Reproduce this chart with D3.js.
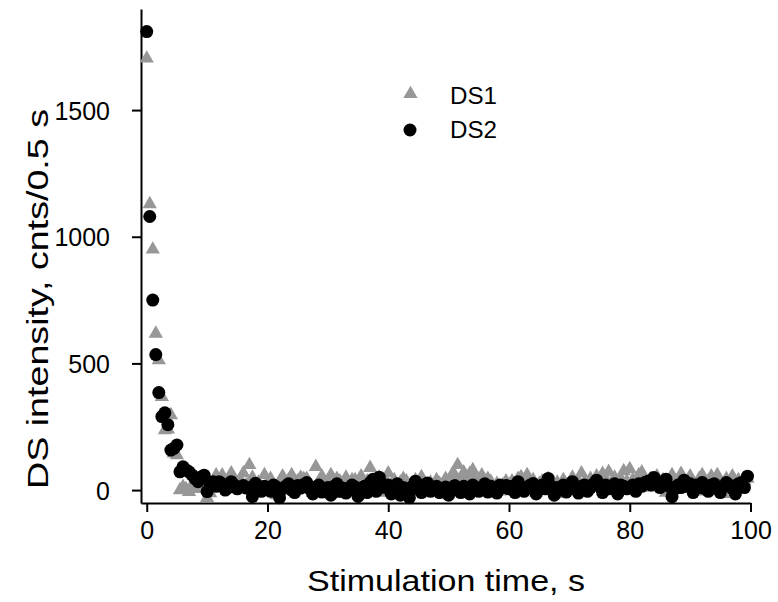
<!DOCTYPE html>
<html>
<head>
<meta charset="utf-8">
<script src="https://cdn.jsdelivr.net/npm/d3@7"></script>
<style>
  body { margin: 0; background: #fff; }
  svg { display: block; font-family: "Liberation Sans", Arial, sans-serif; }
</style>
</head>
<body>
<svg id="chart" width="778" height="602"></svg>
<script>
// counts per 0.5 s bin, starting at t = 0
var binWidth = 0.5;

var ds1 = [
  1704, 1129, 950, 618, 513, 368, 237, 240, 296, 145, 138, 0, 13, 4, -7, 20, 5, 15, 30, 10,
  -31, -12, 25, 59, 20, 59, 30, 10, 67, 35, 15, 40, 67, 20, 99, 50, 10, 30, -5, 60,
  25, 45, 10, -20, 30, 55, 15, 40, 60, 5, 35, 50, 45, 45, 20, -10, 92, 25, 55, 15,
  30, 60, 10, 45, 35, -15, 50, 25, 40, 40, 20, 55, 10, 35, 88, 30, 15, 50, -10, 40,
  67, 20, 40, 10, 30, 45, 35, -5, 25, 40, 15, 52, 20, -10, 30, 10, 40, 25, 5, 45,
  30, 59, 60, 99, 45, 70, 50, 65, 79, 40, 20, 59, 30, 45, 33, 10, 25, -5, 20, 35,
  20, 35, 10, 45, 52, 30, 60, 15, 40, -10, 25, 35, 10, 45, 20, 5, 30, -15, 40, 20,
  25, 50, 15, 35, 67, 30, 10, 45, 20, 55, 25, 65, 40, 72, 30, 50, 15, 45, 75, 35,
  83, 40, 20, 60, 70, 35, 10, 45, 25, 55, 15, 40, -10, 30, 60, 35, 20, 65, 40, 25,
  55, 30, -5, 45, 60, 20, 35, 55, 10, 60, 30, -15, 45, 25, 55, 15, 40, 20, 35, 45
];

var ds2 = [
  1810, 1080, 750, 535, 385, 290, 305, 258, 158, 165, 178, 72, 92, 80, 72, 60, 45, 33, 52, 59,
  -6, 20, 33, 15, 33, 25, 0, 10, 33, 20, 5, 12, 18, 8, 10, -26, 27, 5, -5, 15,
  10, -5, 20, 12, -30, 5, 15, 25, 0, -10, 18, 8, 22, 30, 5, -15, 12, 20, -8, 5,
  10, -20, 15, 25, -5, 8, -12, 0, 20, 12, -25, 5, 15, -10, 30, 43, -5, 51, 25, 10,
  20, -15, 5, 25, -20, 10, 0, -30, 15, 35, 5, -10, 20, 28, -5, 10, 15, -10, 5, 12,
  -20, 8, 18, 0, -10, 15, 5, -15, 20, 10, -5, 12, 25, -8, 15, 5, -12, 20, 10, 18,
  5, 15, -10, 33, 15, -5, 10, 20, 26, -15, 10, 20, 5, 46, 15, -20, 10, 0, 20, -8,
  10, 33, 5, -12, 15, 20, -5, 10, 25, 39, 15, -10, 20, 5, 10, 25, -15, 20, 15, 5,
  10, 20, -5, 25, 15, 30, 35, 20, 50, 25, 10, 30, 43, 15, -26, 5, 20, 10, 39, 15,
  25, -10, 20, 10, 30, 5, -5, 20, 25, 10, -10, 15, 30, 20, 5, -15, 25, 30, 10, 55
];

var xTicks = [0, 20, 40, 60, 80, 100];
var yTicks = [0, 500, 1000, 1500];
var seriesNames = ["DS1", "DS2"];

var svg = d3.select("#chart");

var x = d3.scaleLinear().domain([-0.95, 100]).range([141, 750.5]);
var y = d3.scaleLinear().domain([-51, 1899]).range([503, 9]);

// x axis
var gx = svg.append("g")
    .attr("transform", "translate(0,503)")
    .call(d3.axisBottom(x).tickValues(xTicks).tickFormat(d3.format("d"))
        .tickSize(9).tickSizeOuter(0).tickPadding(9));
// y axis
var gy = svg.append("g")
    .attr("transform", "translate(141,0)")
    .call(d3.axisLeft(y).tickValues(yTicks).tickFormat(d3.format("d"))
        .tickSize(9).tickSizeOuter(0).tickPadding(22));

[gx, gy].forEach(function (g) {
    g.attr("font-size", null).attr("font-family", null);
    g.select(".domain").attr("stroke", "#000").attr("stroke-width", 2);
    g.selectAll(".tick line").attr("stroke", "#000").attr("stroke-width", 2);
    g.selectAll(".tick text").attr("fill", "#000")
        .style("font-size", "25px");
});
gy.selectAll(".tick text").attr("dy", "0.36em");

// axis titles
svg.append("text")
    .attr("x", 446).attr("y", 591)
    .attr("text-anchor", "middle")
    .attr("textLength", 278).attr("lengthAdjust", "spacingAndGlyphs")
    .style("font-size", "30px")
    .text("Stimulation time, s");

svg.append("text")
    .attr("transform", "translate(48,299) rotate(-90)")
    .attr("text-anchor", "middle")
    .attr("textLength", 380).attr("lengthAdjust", "spacingAndGlyphs")
    .style("font-size", "30px")
    .text("DS intensity, cnts/0.5 s");

var tri = d3.symbol().type(d3.symbolTriangle).size(88);

var pts1 = ds1.map(function (v, i) { return { t: i * binWidth, v: v }; });
var pts2 = ds2.map(function (v, i) { return { t: i * binWidth, v: v }; });

svg.append("g").selectAll("path")
    .data(pts1)
    .join("path")
    .attr("d", tri)
    .attr("transform", function (d) { return "translate(" + x(d.t) + "," + y(d.v) + ")"; })
    .attr("fill", "#979797");

svg.append("g").selectAll("circle")
    .data(pts2)
    .join("circle")
    .attr("cx", function (d) { return x(d.t); })
    .attr("cy", function (d) { return y(d.v); })
    .attr("r", 6.5)
    .attr("fill", "#000");

// legend
var legend = svg.append("g");
legend.append("path")
    .attr("d", tri)
    .attr("transform", "translate(410.5,94)")
    .attr("fill", "#979797");
legend.append("circle")
    .attr("cx", 410).attr("cy", 130).attr("r", 6.5)
    .attr("fill", "#000");
legend.selectAll("text")
    .data(seriesNames)
    .join("text")
    .attr("x", 450)
    .attr("y", function (d, i) { return 104 + i * 34; })
    .attr("textLength", 47).attr("lengthAdjust", "spacingAndGlyphs")
    .style("font-size", "24px")
    .text(function (d) { return d; });
</script>
</body>
</html>
